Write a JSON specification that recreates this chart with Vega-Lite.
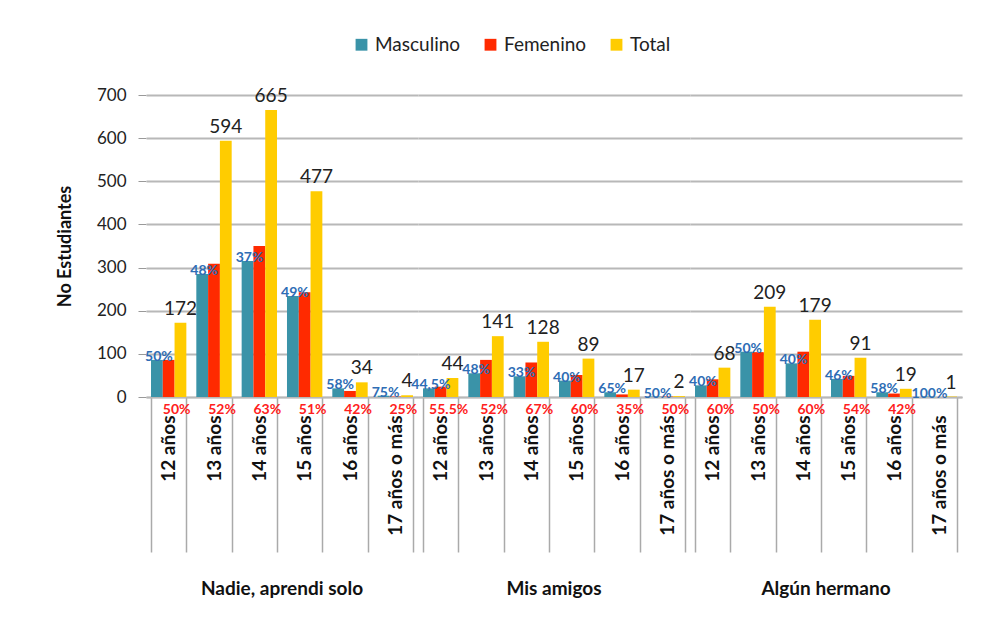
{
  "$schema": "https://vega.github.io/schema/vega-lite/v6.json",
  "background": "white",
  "padding": {"left": 56, "top": 35, "right": 20, "bottom": 5},
  "bounds": "flush",
  "config": {
    "font": "Lato",
    "view": {"stroke": null},
    "axis": {"labelFont": "Lato", "titleFont": "Lato"}
  },
  "data": {
    "values": [
      {"grupo": "Nadie, aprendi solo", "edad": "12 años", "serie": "Masculino", "valor": 86, "pct": "50%"},
      {"grupo": "Nadie, aprendi solo", "edad": "12 años", "serie": "Femenino", "valor": 86, "pct": "50%"},
      {"grupo": "Nadie, aprendi solo", "edad": "12 años", "serie": "Total", "valor": 172, "pct": ""},
      {"grupo": "Nadie, aprendi solo", "edad": "13 años", "serie": "Masculino", "valor": 285, "pct": "48%"},
      {"grupo": "Nadie, aprendi solo", "edad": "13 años", "serie": "Femenino", "valor": 309, "pct": "52%"},
      {"grupo": "Nadie, aprendi solo", "edad": "13 años", "serie": "Total", "valor": 594, "pct": ""},
      {"grupo": "Nadie, aprendi solo", "edad": "14 años", "serie": "Masculino", "valor": 315, "pct": "37%"},
      {"grupo": "Nadie, aprendi solo", "edad": "14 años", "serie": "Femenino", "valor": 350, "pct": "63%"},
      {"grupo": "Nadie, aprendi solo", "edad": "14 años", "serie": "Total", "valor": 665, "pct": ""},
      {"grupo": "Nadie, aprendi solo", "edad": "15 años", "serie": "Masculino", "valor": 234, "pct": "49%"},
      {"grupo": "Nadie, aprendi solo", "edad": "15 años", "serie": "Femenino", "valor": 243, "pct": "51%"},
      {"grupo": "Nadie, aprendi solo", "edad": "15 años", "serie": "Total", "valor": 477, "pct": ""},
      {"grupo": "Nadie, aprendi solo", "edad": "16 años", "serie": "Masculino", "valor": 20, "pct": "58%"},
      {"grupo": "Nadie, aprendi solo", "edad": "16 años", "serie": "Femenino", "valor": 14, "pct": "42%"},
      {"grupo": "Nadie, aprendi solo", "edad": "16 años", "serie": "Total", "valor": 34, "pct": ""},
      {"grupo": "Nadie, aprendi solo", "edad": "17 años o más", "serie": "Masculino", "valor": 3, "pct": "75%"},
      {"grupo": "Nadie, aprendi solo", "edad": "17 años o más", "serie": "Femenino", "valor": 1, "pct": "25%"},
      {"grupo": "Nadie, aprendi solo", "edad": "17 años o más", "serie": "Total", "valor": 4, "pct": ""},
      {"grupo": "Mis amigos", "edad": "12 años", "serie": "Masculino", "valor": 20, "pct": "44,5%"},
      {"grupo": "Mis amigos", "edad": "12 años", "serie": "Femenino", "valor": 24, "pct": "55.5%"},
      {"grupo": "Mis amigos", "edad": "12 años", "serie": "Total", "valor": 44, "pct": ""},
      {"grupo": "Mis amigos", "edad": "13 años", "serie": "Masculino", "valor": 55, "pct": "48%"},
      {"grupo": "Mis amigos", "edad": "13 años", "serie": "Femenino", "valor": 86, "pct": "52%"},
      {"grupo": "Mis amigos", "edad": "13 años", "serie": "Total", "valor": 141, "pct": ""},
      {"grupo": "Mis amigos", "edad": "14 años", "serie": "Masculino", "valor": 48, "pct": "33%"},
      {"grupo": "Mis amigos", "edad": "14 años", "serie": "Femenino", "valor": 80, "pct": "67%"},
      {"grupo": "Mis amigos", "edad": "14 años", "serie": "Total", "valor": 128, "pct": ""},
      {"grupo": "Mis amigos", "edad": "15 años", "serie": "Masculino", "valor": 38, "pct": "40%"},
      {"grupo": "Mis amigos", "edad": "15 años", "serie": "Femenino", "valor": 51, "pct": "60%"},
      {"grupo": "Mis amigos", "edad": "15 años", "serie": "Total", "valor": 89, "pct": ""},
      {"grupo": "Mis amigos", "edad": "16 años", "serie": "Masculino", "valor": 11, "pct": "65%"},
      {"grupo": "Mis amigos", "edad": "16 años", "serie": "Femenino", "valor": 6, "pct": "35%"},
      {"grupo": "Mis amigos", "edad": "16 años", "serie": "Total", "valor": 17, "pct": ""},
      {"grupo": "Mis amigos", "edad": "17 años o más", "serie": "Masculino", "valor": 1, "pct": "50%"},
      {"grupo": "Mis amigos", "edad": "17 años o más", "serie": "Femenino", "valor": 1, "pct": "50%"},
      {"grupo": "Mis amigos", "edad": "17 años o más", "serie": "Total", "valor": 2, "pct": ""},
      {"grupo": "Algún hermano", "edad": "12 años", "serie": "Masculino", "valor": 27, "pct": "40%"},
      {"grupo": "Algún hermano", "edad": "12 años", "serie": "Femenino", "valor": 41, "pct": "60%"},
      {"grupo": "Algún hermano", "edad": "12 años", "serie": "Total", "valor": 68, "pct": ""},
      {"grupo": "Algún hermano", "edad": "13 años", "serie": "Masculino", "valor": 105, "pct": "50%"},
      {"grupo": "Algún hermano", "edad": "13 años", "serie": "Femenino", "valor": 104, "pct": "50%"},
      {"grupo": "Algún hermano", "edad": "13 años", "serie": "Total", "valor": 209, "pct": ""},
      {"grupo": "Algún hermano", "edad": "14 años", "serie": "Masculino", "valor": 78, "pct": "40%"},
      {"grupo": "Algún hermano", "edad": "14 años", "serie": "Femenino", "valor": 105, "pct": "60%"},
      {"grupo": "Algún hermano", "edad": "14 años", "serie": "Total", "valor": 179, "pct": ""},
      {"grupo": "Algún hermano", "edad": "15 años", "serie": "Masculino", "valor": 42, "pct": "46%"},
      {"grupo": "Algún hermano", "edad": "15 años", "serie": "Femenino", "valor": 49, "pct": "54%"},
      {"grupo": "Algún hermano", "edad": "15 años", "serie": "Total", "valor": 91, "pct": ""},
      {"grupo": "Algún hermano", "edad": "16 años", "serie": "Masculino", "valor": 11, "pct": "58%"},
      {"grupo": "Algún hermano", "edad": "16 años", "serie": "Femenino", "valor": 8, "pct": "42%"},
      {"grupo": "Algún hermano", "edad": "16 años", "serie": "Total", "valor": 19, "pct": ""},
      {"grupo": "Algún hermano", "edad": "17 años o más", "serie": "Masculino", "valor": 1, "pct": "100%"},
      {"grupo": "Algún hermano", "edad": "17 años o más", "serie": "Femenino", "valor": 0, "pct": ""},
      {"grupo": "Algún hermano", "edad": "17 años o más", "serie": "Total", "valor": 1, "pct": ""}
    ]
  },
  "facet": {
    "column": {
      "field": "grupo",
      "type": "nominal",
      "sort": ["Nadie, aprendi solo", "Mis amigos", "Algún hermano"],
      "header": {
        "title": null,
        "labelOrient": "bottom",
        "labelFont": "Lato",
        "labelFontSize": 19,
        "labelFontWeight": "bold",
        "labelColor": "#111111",
        "labelPadding": 27
      }
    }
  },
  "spacing": 0,
  "spec": {
    "width": 272,
    "height": 302,
    "encoding": {
      "x": {
        "field": "edad",
        "type": "nominal",
        "sort": ["12 años", "13 años", "14 años", "15 años", "16 años", "17 años o más"],
        "scale": {"paddingInner": 0.22, "paddingOuter": 0.11},
        "axis": {
          "title": null,
          "labelAngle": -90,
          "labelFontSize": 19,
          "labelFontWeight": "bold",
          "labelColor": "#111111",
          "tickBand": "extent",
          "tickSize": 155,
          "tickColor": "#aaaaaa",
          "tickWidth": 1.5,
          "labelPadding": -137,
          "domainColor": "#aaaaaa",
          "domainWidth": 1.5,
          "grid": false
        }
      },
      "xOffset": {
        "field": "serie",
        "type": "nominal",
        "sort": ["Masculino", "Femenino", "Total"]
      },
      "y": {
        "field": "valor",
        "type": "quantitative",
        "scale": {"domain": [0, 700]},
        "axis": {
          "title": "No Estudiantes",
          "titleFontSize": 18,
          "titleFontWeight": "bold",
          "titleColor": "#111111",
          "titlePadding": 22,
          "labelFontSize": 17,
          "labelColor": "#222222",
          "labelPadding": 12,
          "values": [0, 100, 200, 300, 400, 500, 600, 700],
          "gridColor": "#b8b8b8",
          "gridWidth": 2,
          "domain": false,
          "tickColor": "#999999",
          "tickSize": 8
        }
      }
    },
    "layer": [
      {
        "mark": {"type": "bar"},
        "encoding": {
          "color": {
            "field": "serie",
            "type": "nominal",
            "sort": ["Masculino", "Femenino", "Total"],
            "scale": {
              "domain": ["Masculino", "Femenino", "Total"],
              "range": ["#3a93a8", "#ff2a00", "#ffcc00"]
            },
            "legend": {
              "title": null,
              "orient": "none",
              "legendX": 206,
              "legendY": -60,
              "direction": "horizontal",
              "symbolType": "square",
              "symbolSize": 140,
              "symbolStrokeWidth": 0,
              "labelFontSize": 19,
              "labelColor": "#222222",
              "columnPadding": 20
            }
          }
        }
      },
      {
        "transform": [{"filter": "datum.serie === 'Total'"}],
        "mark": {"type": "text", "baseline": "bottom", "dy": -4, "fontSize": 19, "color": "#222222"},
        "encoding": {"text": {"field": "valor", "type": "quantitative"}}
      },
      {
        "transform": [{"filter": "datum.serie === 'Masculino'"}],
        "mark": {"type": "text", "baseline": "bottom", "dy": 4, "dx": 2, "fontSize": 14, "fontWeight": "bold", "color": "#2e6db5"},
        "encoding": {"text": {"field": "pct", "type": "nominal"}}
      },
      {
        "transform": [{"filter": "datum.serie === 'Femenino'"}],
        "mark": {"type": "text", "baseline": "top", "dy": 6, "dx": 8, "fontSize": 14, "fontWeight": "bold", "color": "#ff2020"},
        "encoding": {
          "y": {"datum": 0, "type": "quantitative"},
          "text": {"field": "pct", "type": "nominal"}
        }
      }
    ]
  }
}
